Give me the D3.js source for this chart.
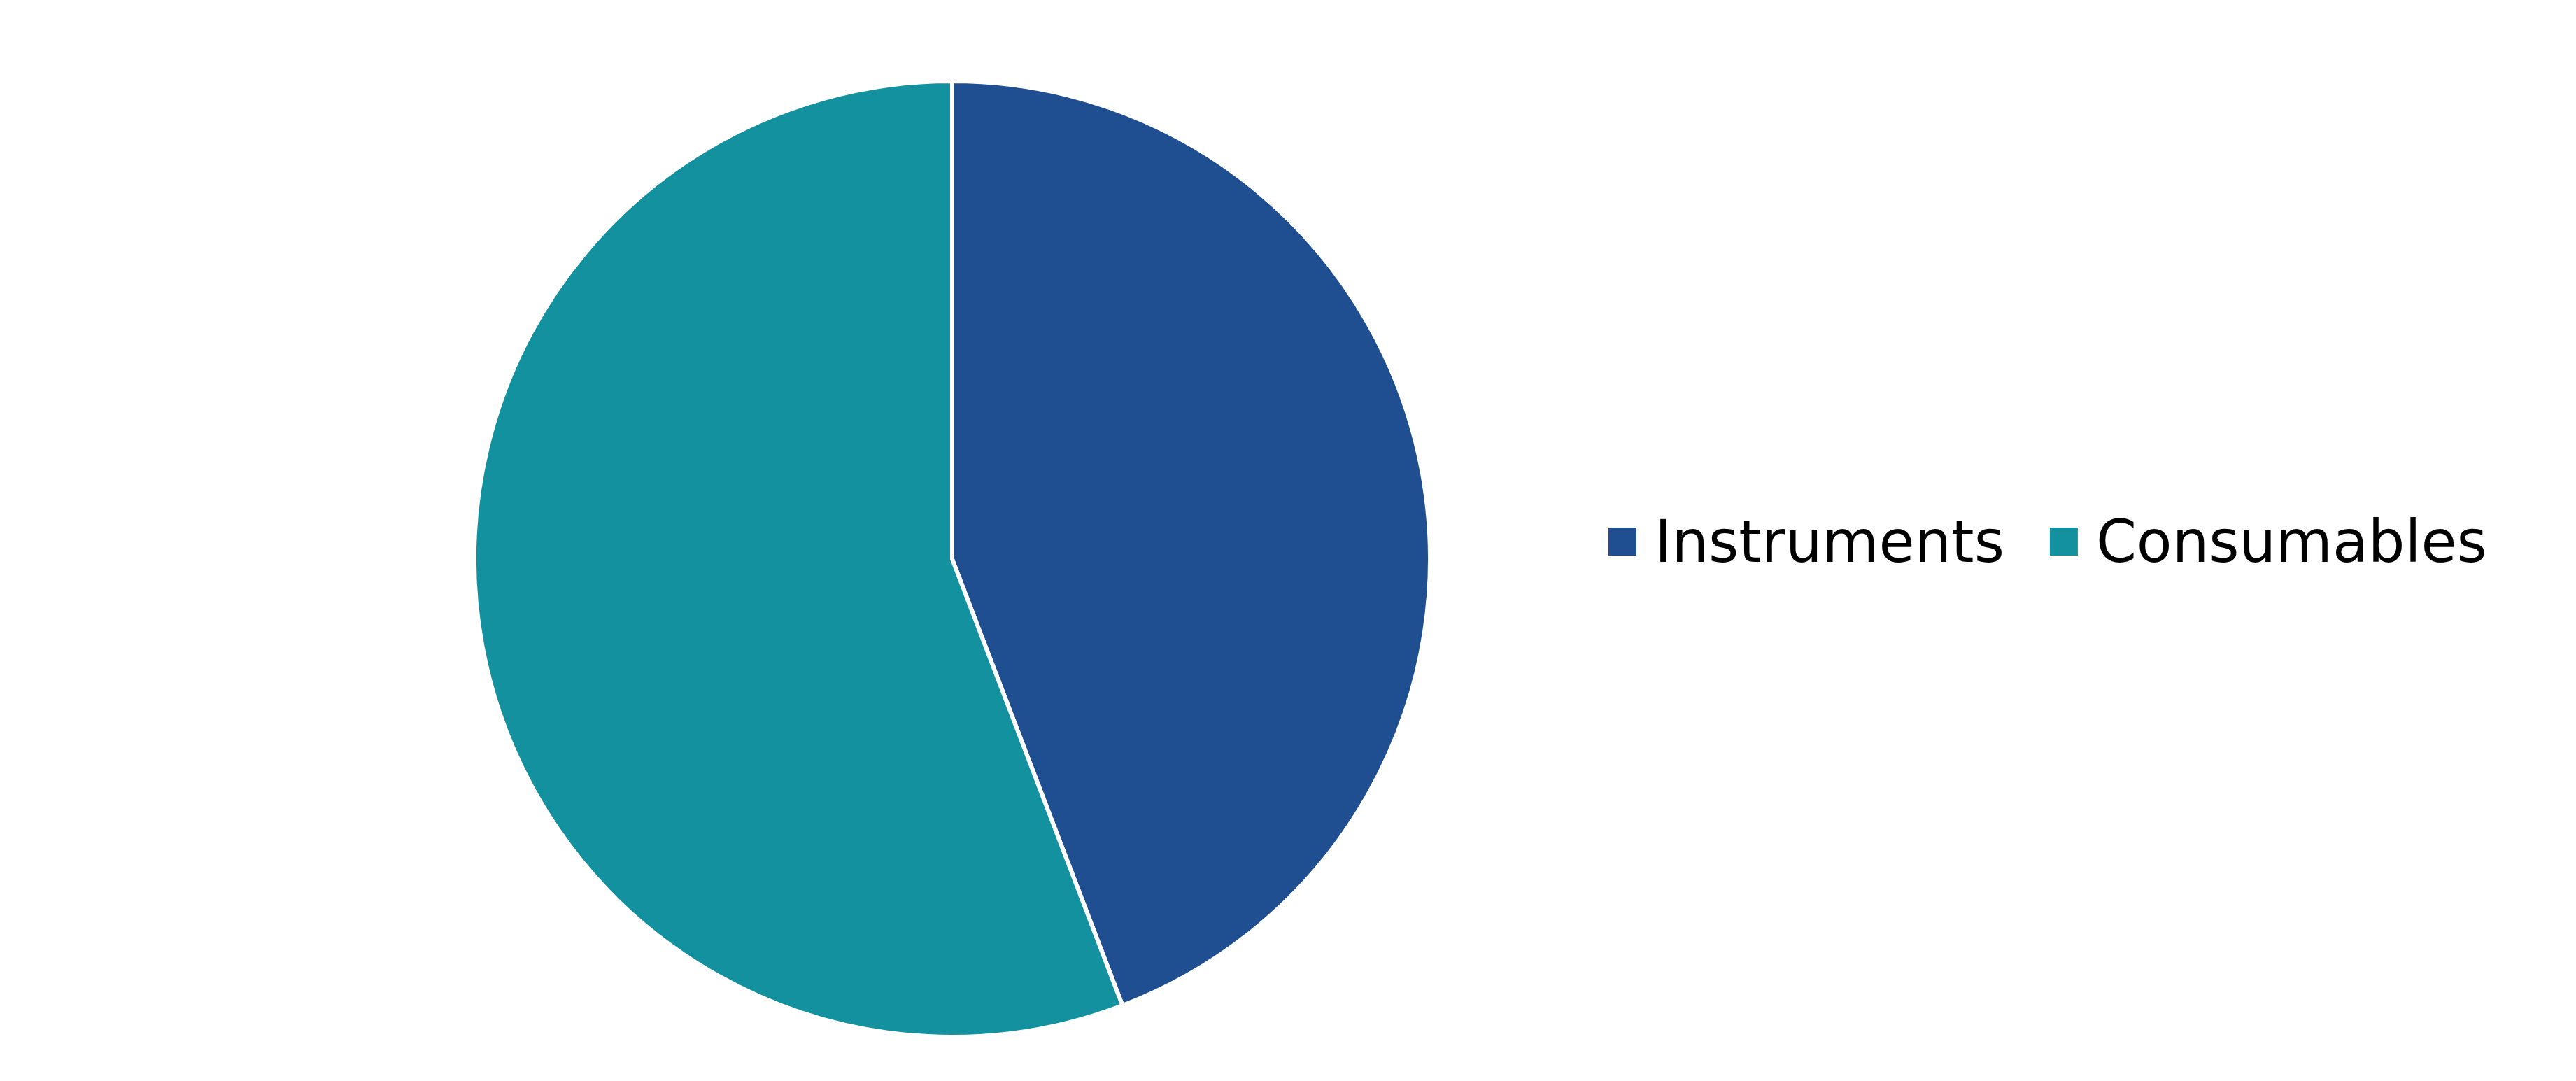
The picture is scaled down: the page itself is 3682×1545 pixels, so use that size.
<!DOCTYPE html>
<html>
<head>
<meta charset="utf-8">
<script src="https://cdn.jsdelivr.net/npm/d3@7"></script>
<style>
html,body{margin:0;padding:0;background:#fff;}
svg{display:block;}
</style>
</head>
<body>
<script>
const categories = ["Instruments", "Consumables"];
const values = [44.2, 55.8];
const colors = ["#1F4E91", "#13919E"];

const W = 3682, H = 1545;
const cx = 1361, cy = 799, R = 683;

const svg = d3.select("body").append("svg").attr("width", W).attr("height", H);

const pie = d3.pie().sort(null).value(d => d.v);
const data = categories.map((c, i) => ({c, v: values[i]}));
const arc = d3.arc().innerRadius(0).outerRadius(R);
const color = d3.scaleOrdinal().domain(categories).range(colors);

svg.append("g").attr("transform", `translate(${cx},${cy})`)
  .selectAll("path").data(pie(data)).join("path")
  .attr("d", arc)
  .attr("fill", d => color(d.data.c))
  .attr("stroke", "#fff").attr("stroke-width", 6).attr("stroke-linejoin", "round");

// legend
const legend = svg.append("g");
const fontSize = 83;
let x = 2299;
const ly = 774;
categories.forEach((c, i) => {
  const g = legend.append("g");
  g.append("rect").attr("x", x).attr("y", ly - 20).attr("width", 40).attr("height", 40).attr("fill", color(c));
  const t = g.append("text").attr("x", x + 66).attr("y", ly + 29)
    .attr("font-family", "Verdana, 'DejaVu Sans', sans-serif")
    .attr("font-size", fontSize).attr("fill", "#000").text(c);
  const w = t.node().getComputedTextLength();
  x = x + 66 + w + 65;
});
</script>
</body>
</html>
